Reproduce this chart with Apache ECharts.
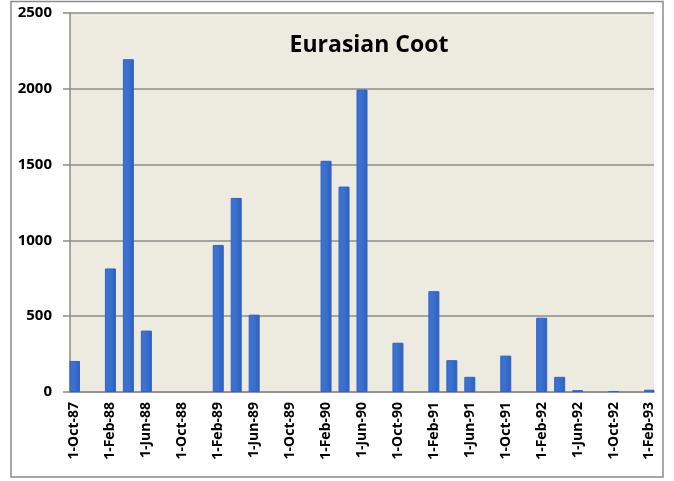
<!DOCTYPE html>
<html>
<head>
<meta charset="utf-8">
<script src="https://cdn.jsdelivr.net/npm/echarts@6/dist/echarts.min.js"></script>
<style>
html, body { margin: 0; padding: 0; background: #fff; }
#chart { width: 674px; height: 481px; }
</style>
</head>
<body>
<div id="chart"></div>
<script>
// every month on the axis, Oct-87 .. Feb-93
var months = [
    'Oct-87', 'Nov-87', 'Dec-87',
    'Jan-88', 'Feb-88', 'Mar-88', 'Apr-88', 'May-88', 'Jun-88', 'Jul-88', 'Aug-88', 'Sep-88', 'Oct-88', 'Nov-88', 'Dec-88',
    'Jan-89', 'Feb-89', 'Mar-89', 'Apr-89', 'May-89', 'Jun-89', 'Jul-89', 'Aug-89', 'Sep-89', 'Oct-89', 'Nov-89', 'Dec-89',
    'Jan-90', 'Feb-90', 'Mar-90', 'Apr-90', 'May-90', 'Jun-90', 'Jul-90', 'Aug-90', 'Sep-90', 'Oct-90', 'Nov-90', 'Dec-90',
    'Jan-91', 'Feb-91', 'Mar-91', 'Apr-91', 'May-91', 'Jun-91', 'Jul-91', 'Aug-91', 'Sep-91', 'Oct-91', 'Nov-91', 'Dec-91',
    'Jan-92', 'Feb-92', 'Mar-92', 'Apr-92', 'May-92', 'Jun-92', 'Jul-92', 'Aug-92', 'Sep-92', 'Oct-92', 'Nov-92', 'Dec-92',
    'Jan-93', 'Feb-93'
];

// survey dates and counts
var surveyMonths = [
    'Oct-87', 'Dec-87', 'Feb-88', 'Apr-88', 'Jun-88', 'Aug-88', 'Oct-88', 'Dec-88',
    'Feb-89', 'Apr-89', 'Jun-89', 'Aug-89', 'Oct-89', 'Dec-89',
    'Feb-90', 'Apr-90', 'Jun-90', 'Aug-90', 'Oct-90', 'Dec-90',
    'Feb-91', 'Apr-91', 'Jun-91', 'Aug-91', 'Oct-91', 'Dec-91',
    'Feb-92', 'Apr-92', 'Jun-92', 'Aug-92', 'Oct-92', 'Dec-92',
    'Feb-93'
];
var counts = [
    205, 0, 815, 2195, 405, 0, 0, 0,
    970, 1280, 510, 0, 0, 0,
    1525, 1355, 1995, 0, 325, 0,
    665, 210, 100, 0, 240, 0,
    490, 100, 12, 0, 6, 0,
    15
];

var yTicks = [0, 500, 1000, 1500, 2000, 2500];

var seriesData = [];
for (var i in months) {
    var k = surveyMonths.indexOf(months[i]);
    // zero counts draw nothing, like the original
    seriesData.push(k >= 0 && counts[k] > 0 ? counts[k] : '-');
}

var font = '"Open Sans", "Liberation Sans", sans-serif';
var chart = echarts.init(document.getElementById('chart'));
chart.setOption({
    animation: false,
    backgroundColor: '#fff',
    title: {
        text: 'Eurasian Coot',
        left: 364,
        top: 29,
        textAlign: 'center',
        textStyle: {fontFamily: font, fontSize: 23, fontWeight: 'bold', color: '#000'}
    },
    graphic: [{
        type: 'rect',
        shape: {x: 11, y: 1.5, width: 652, height: 475.5},
        style: {fill: null, stroke: '#8c8c8c', lineWidth: 1.5},
        silent: true
    }],
    grid: {
        left: 70,
        right: 20,
        top: 13,
        bottom: 89,
        show: true,
        backgroundColor: '#edeae0',
        borderWidth: 0
    },
    xAxis: {
        type: 'category',
        data: months,
        boundaryGap: true,
        axisLine: {lineStyle: {color: '#8c8c8c', width: 1.5}},
        axisTick: {interval: 3, length: 5, lineStyle: {color: '#8c8c8c', width: 1.5}},
        axisLabel: {
            interval: 3,
            rotate: 90,
            margin: 10,
            fontFamily: font,
            fontSize: 14,
            fontWeight: 'bold',
            color: '#000',
            formatter: function(v) { return '1-' + v; }
        },
        splitLine: {show: false}
    },
    yAxis: {
        type: 'value',
        min: yTicks[0],
        max: yTicks[yTicks.length - 1],
        interval: 500,
        axisLine: {show: true, lineStyle: {color: '#8c8c8c', width: 1.5}},
        axisTick: {show: true, length: 7, lineStyle: {color: '#8c8c8c', width: 1.5}},
        axisLabel: {
            margin: 18,
            fontFamily: font,
            fontSize: 15,
            fontWeight: 'bold',
            color: '#000',
            formatter: function(v) { return String(v); }
        },
        splitLine: {lineStyle: {color: '#8c8c8c', width: 1.5}}
    },
    series: [{
        name: 'Eurasian Coot',
        type: 'bar',
        data: seriesData,
        barWidth: 11,
        itemStyle: {
            color: new echarts.graphic.LinearGradient(0, 0, 1, 0, [
                {offset: 0, color: '#3c74d6'},
                {offset: 0.5, color: '#3a6fcc'},
                {offset: 1, color: '#2e5fb8'}
            ]),
            borderColor: '#2f62c8',
            borderWidth: 1
        }
    }]
});
</script>
</body>
</html>
